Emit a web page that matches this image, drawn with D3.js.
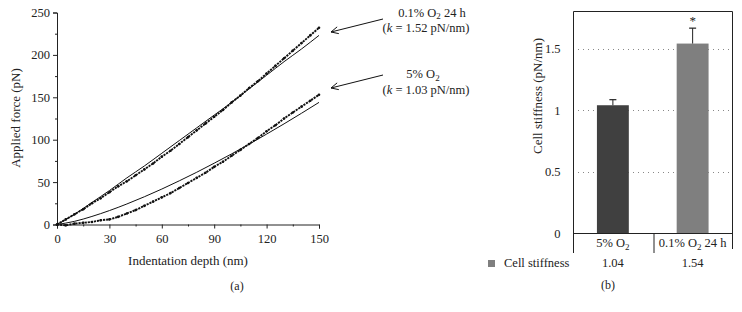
<!DOCTYPE html>
<html><head><meta charset="utf-8">
<script src="https://cdn.jsdelivr.net/npm/d3@7"></script>
<style>body{margin:0;background:#fff}svg{display:block}text{font-family:"Liberation Serif","DejaVu Serif",serif;fill:#222}</style>
</head><body><svg id="c" width="742" height="312"></svg>
<script>
// ---- Panel (a) data ----
const depthData = [0,5,10,15,20,25,30,35,40,45,50,55,60,65,70,75,80,85,90,95,100,105,110,115,120,125,130,135,140,145,150];
const hypoxiaData = [0,6,12,18,25,31,38,45,51,58,65,72,80,87,95,103,111,119,127,135,144,152,161,169,178,187,196,205,214,223,232];
const normoxiaData = [0,-1,1,2,3,5,6,9,13,17,22,27,32,37,43,49,55,61,68,74,81,88,95,102,110,117,125,132,139,146,153];
const depthFit = [0,10,20,30,40,50,60,70,80,90,100,110,120,130,140,150];
const hypoxiaFit = [0,12,26,40,55,69,84,99,114,129,144,160,176,192,207,223];
const normoxiaFit = [0,3.7,9.5,16.4,24.2,32.7,41.8,51.5,61.6,72.3,83.3,94.7,106.6,118.7,131.2,144];
const xTicksA = [0,30,60,90,120,150];
const yTicksA = [0,50,100,150,200,250];

// ---- Panel (b) data ----
const categories = ["5% O2","0.1% O2 24 h"];
const stiffness = [1.04,1.54];
const errTop = [1.085,1.665];
const barColors = ["#404040","#7f7f7f"];
const yTicksB = [0,0.5,1,1.5];
const gridB = [0.5,1,1.5];

const svg = d3.select("#c");

// ===== Panel (a) =====
const xA = d3.scaleLinear().domain([0,150]).range([57,319]);
const yA = d3.scaleLinear().domain([0,250]).range([224.5,12.5]);
const gA = svg.append("g");

const xAxis = d3.axisBottom(xA).tickValues(xTicksA).tickSize(4).tickFormat(d3.format("d"));
const xAxisMinor = d3.axisBottom(xA).tickValues(d3.range(15,150,30)).tickSize(2).tickFormat("");
const ax = gA.append("g").attr("transform","translate(0,224.5)").call(xAxis);
gA.append("g").attr("transform","translate(0,224.5)").call(xAxisMinor).select(".domain").remove();
const yAxis = d3.axisLeft(yA).tickValues(yTicksA).tickSize(4).tickFormat(d3.format("d"));
const yAxisMinor = d3.axisLeft(yA).tickValues(d3.range(25,250,50)).tickSize(2).tickFormat("");
const ay = gA.append("g").attr("transform","translate(57,0)").call(yAxis);
gA.append("g").attr("transform","translate(57,0)").call(yAxisMinor).select(".domain").remove();
gA.selectAll(".domain").attr("stroke","#222");
gA.selectAll(".tick line").attr("stroke","#222");
ax.selectAll(".tick text").attr("font-size",12.5).attr("dy","0.95em").attr("font-family","Liberation Serif");
ay.selectAll(".tick text").attr("font-size",12.5).attr("x",-7).attr("font-family","Liberation Serif");

gA.append("text").attr("x",188).attr("y",265).attr("text-anchor","middle").attr("font-size",13).text("Indentation depth (nm)");
gA.append("text").attr("transform","translate(20,118) rotate(-90)").attr("text-anchor","middle").attr("font-size",13).text("Applied force (pN)");
gA.append("text").attr("x",237).attr("y",290).attr("text-anchor","middle").attr("font-size",12).text("(a)");

const fitLine = d3.line().x((d,i)=>xA(depthFit[i])).y(d=>yA(d)).curve(d3.curveMonotoneX);
[hypoxiaFit, normoxiaFit].forEach(s=>{
  gA.append("path").attr("d",fitLine(s)).attr("fill","none").attr("stroke","#111").attr("stroke-width",1);
});
const dataLine = d3.line().x((d,i)=>xA(depthData[i])).y(d=>yA(d)).curve(d3.curveLinear);
[hypoxiaData, normoxiaData].forEach(s=>{
  gA.append("path").attr("d",dataLine(s)).attr("fill","none").attr("stroke","#111").attr("stroke-width",1.9).attr("stroke-dasharray","2.2 0.9");
  gA.selectAll(null).data(s).enter().append("circle")
    .attr("cx",(d,i)=>xA(depthData[i])).attr("cy",d=>yA(d)).attr("r",1.3).attr("fill","#111");
});

function sub(textSel, parts){
  parts.forEach(p=>{
    const t = textSel.append("tspan").text(p.t);
    if(p.sub){ t.attr("font-size",9).attr("dy",2.5); }
    if(p.up){ t.attr("dy",-2.5); }
    if(p.it){ t.attr("font-style","italic"); }
  });
}
const ann = gA.append("g").attr("font-size",12.5);
sub(ann.append("text").attr("x",432).attr("y",16.5).attr("text-anchor","middle"),
  [{t:"0.1% O"},{t:"2",sub:true},{t:" 24 h",up:true}]);
sub(ann.append("text").attr("x",426).attr("y",32).attr("text-anchor","middle"),
  [{t:"("},{t:"k",it:true},{t:" = 1.52 pN/nm)"}]);
sub(ann.append("text").attr("x",423).attr("y",78).attr("text-anchor","middle"),
  [{t:"5% O"},{t:"2",sub:true}]);
sub(ann.append("text").attr("x",426).attr("y",93.5).attr("text-anchor","middle"),
  [{t:"("},{t:"k",it:true},{t:" = 1.03 pN/nm)"}]);
function arrow(x1,y1,x2,y2){
  gA.append("line").attr("x1",x1).attr("y1",y1).attr("x2",x2).attr("y2",y2).attr("stroke","#111").attr("stroke-width",1);
  const a = Math.atan2(y1-y2,x1-x2), L=8, w=0.45;
  const p1=[x2+L*Math.cos(a+w), y2+L*Math.sin(a+w)], p2=[x2+L*Math.cos(a-w), y2+L*Math.sin(a-w)];
  gA.append("path").attr("d",`M${p1}L${x2},${y2}L${p2}`).attr("fill","none").attr("stroke","#111").attr("stroke-width",1);
}
arrow(383,19,331,32);
arrow(383,75,331,88);

// ===== Panel (b) =====
const xB = d3.scaleBand().domain(categories).range([573,732.5]).paddingInner(0.6).paddingOuter(0.3);
const yB = d3.scaleLinear().domain([0,1.8]).range([233.5,11.5]);
const gB = svg.append("g");

gB.selectAll(".grid").data(gridB).enter().append("line")
  .attr("x1",573).attr("x2",732.5).attr("y1",d=>Math.round(yB(d))+0.5).attr("y2",d=>Math.round(yB(d))+0.5)
  .attr("stroke","#888").attr("stroke-width",1).attr("stroke-dasharray","1 4");

gB.selectAll(".bar").data(stiffness).enter().append("rect")
  .attr("x",(d,i)=>xB(categories[i])).attr("width",xB.bandwidth())
  .attr("y",d=>yB(d)).attr("height",d=>yB(0)-yB(d)).attr("fill",(d,i)=>barColors[i]);

errTop.forEach((e,i)=>{
  const cx = xB(categories[i])+xB.bandwidth()/2;
  gB.append("line").attr("x1",cx).attr("x2",cx).attr("y1",yB(stiffness[i])).attr("y2",yB(e)).attr("stroke","#222").attr("stroke-width",1);
  gB.append("line").attr("x1",cx-3.5).attr("x2",cx+3.5).attr("y1",yB(e)).attr("y2",yB(e)).attr("stroke","#222").attr("stroke-width",1.2);
});
gB.append("text").attr("x",xB(categories[1])+xB.bandwidth()/2).attr("y",25).attr("text-anchor","middle").attr("font-size",13).text("*");

const yAxisB = d3.axisLeft(yB).tickValues(yTicksB).tickSize(0).tickPadding(13).tickFormat(d=>d);
const ayb = gB.append("g").attr("transform","translate(573.5,0)").call(yAxisB);
ayb.select(".domain").remove();
ayb.selectAll(".tick text").attr("font-size",12.5).attr("font-family","Liberation Serif");
const frame = gB.append("g").attr("stroke","#222").attr("stroke-width",1).attr("fill","none");
frame.append("path").attr("d","M573.5,253V11.5H732.5V249");
frame.append("line").attr("x1",573).attr("x2",733).attr("y1",233.5).attr("y2",233.5);
frame.append("line").attr("x1",654).attr("x2",654).attr("y1",233.5).attr("y2",253);

gB.append("text").attr("transform","translate(542,96) rotate(-90)").attr("text-anchor","middle").attr("font-size",13).text("Cell stiffness (pN/nm)");

const catLbl = [[{t:"5% O"},{t:"2",sub:true}],[{t:"0.1% O"},{t:"2",sub:true},{t:" 24 h",up:true}]];
categories.forEach((c,i)=>{
  sub(gB.append("text").attr("x",xB(c)+xB.bandwidth()/2).attr("y",247).attr("text-anchor","middle").attr("font-size",12.5), catLbl[i]);
  gB.append("text").attr("x",xB(c)+xB.bandwidth()/2).attr("y",267).attr("text-anchor","middle").attr("font-size",12.5).text(stiffness[i].toFixed(2));
});
gB.append("rect").attr("x",488).attr("y",260).attr("width",7).attr("height",7).attr("fill","#7f7f7f");
gB.append("text").attr("x",504).attr("y",267).attr("font-size",12.5).text("Cell stiffness");
gB.append("text").attr("x",608).attr("y",289).attr("text-anchor","middle").attr("font-size",12).text("(b)");
</script></body></html>
